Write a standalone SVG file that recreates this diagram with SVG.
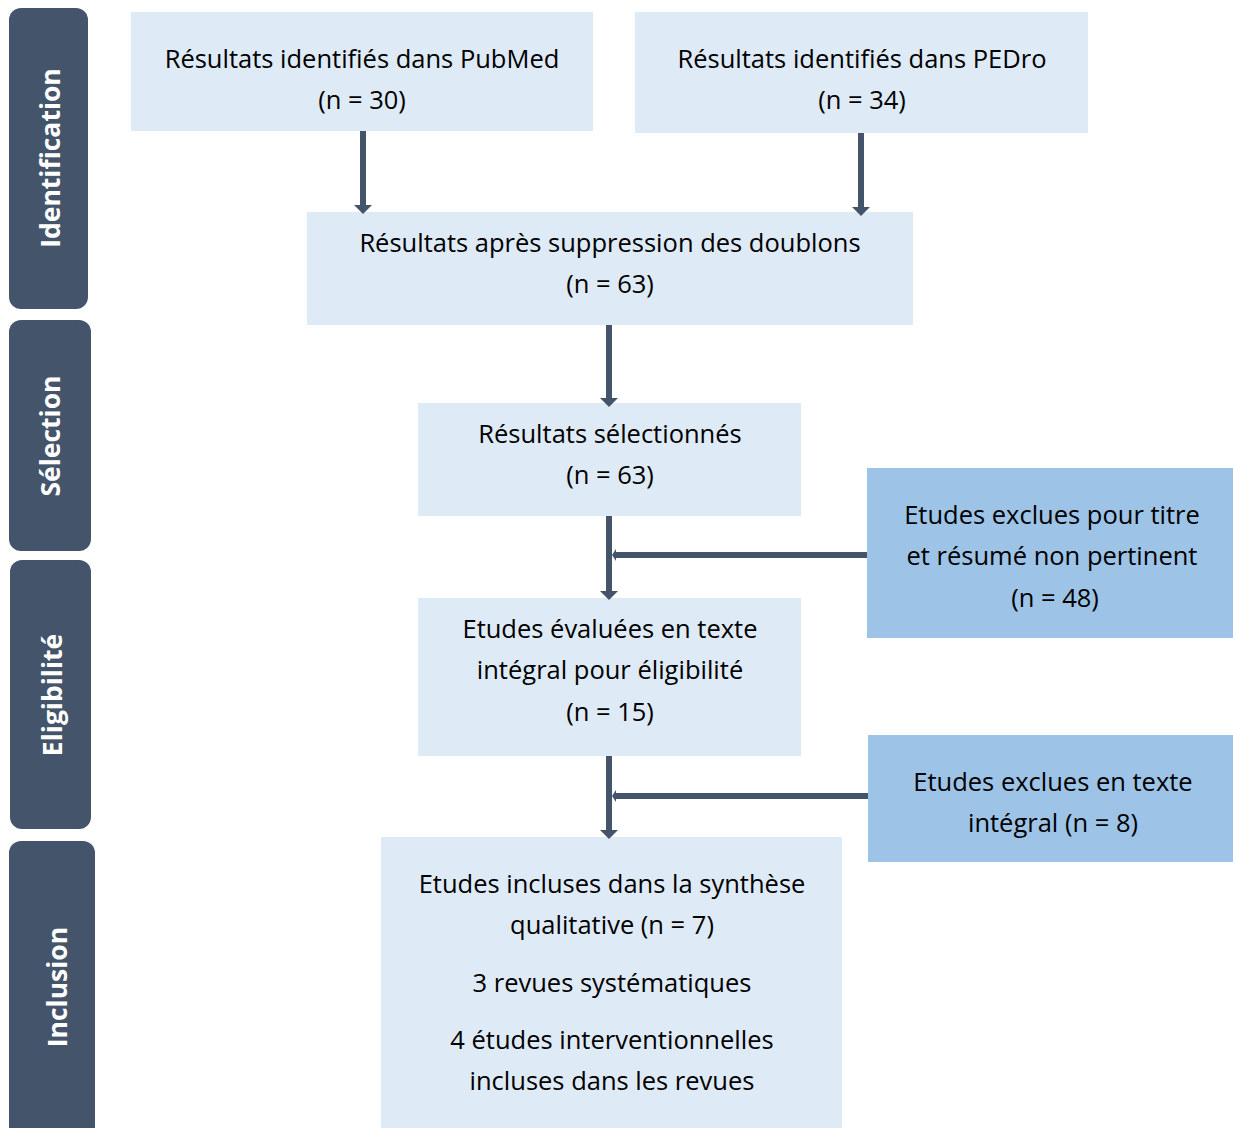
<svg xmlns="http://www.w3.org/2000/svg" width="1233" height="1128" viewBox="0 0 1233 1128">
<defs>
<style>
.side{fill:#44546A;}
.sl{fill:#fff;font-family:"Open Sans","DejaVu Sans",sans-serif;font-weight:bold;font-size:26.5px;text-anchor:middle;dominant-baseline:central;}
.box{fill:#DEEAF6;}
.ex{fill:#9DC3E6;}
.t{fill:#000;font-family:"Open Sans","DejaVu Sans",sans-serif;font-size:25.5px;text-anchor:middle;dominant-baseline:central;}
.c{stroke:#44546A;stroke-width:6;fill:none;}
.h{fill:#44546A;}
</style>
</defs>

<g id="side-identification"><rect class="side" x="9" y="8" width="79" height="301" rx="12"/><text class="sl" transform="translate(50,158) rotate(-90)">Identification</text></g>
<g id="side-selection"><rect class="side" x="9" y="320" width="82" height="231" rx="12"/><text class="sl" transform="translate(50,436) rotate(-90)">Sélection</text></g>
<g id="side-eligibilite"><rect class="side" x="10" y="560" width="81" height="269" rx="12"/><text class="sl" transform="translate(52,695) rotate(-90)">Eligibilité</text></g>
<g id="side-inclusion"><rect class="side" x="9" y="841" width="86" height="300" rx="12"/><text class="sl" transform="translate(57,987) rotate(-90)">Inclusion</text></g>

<g id="pubmed"><rect class="box" x="131" y="12" width="462" height="119"/><text class="t" x="362" y="58">Résultats identifiés dans PubMed</text><text class="t" x="362" y="99">(n = 30)</text></g>
<g id="pedro"><rect class="box" x="635" y="12" width="453" height="121"/><text class="t" x="862" y="58">Résultats identifiés dans PEDro</text><text class="t" x="862" y="99">(n = 34)</text></g>
<g id="doublons"><rect class="box" x="307" y="212" width="606" height="113"/><text class="t" x="610" y="242">Résultats après suppression des doublons</text><text class="t" x="610" y="283">(n = 63)</text></g>
<g id="selectionnes"><rect class="box" x="418" y="403" width="383" height="113"/><text class="t" x="610" y="433">Résultats sélectionnés</text><text class="t" x="610" y="474">(n = 63)</text></g>
<g id="evaluees"><rect class="box" x="418" y="598" width="383" height="158"/><text class="t" x="610" y="628">Etudes évaluées en texte</text><text class="t" x="610" y="669">intégral pour éligibilité</text><text class="t" x="610" y="711">(n = 15)</text></g>
<g id="incluses"><rect class="box" x="381" y="837" width="461" height="291"/><text class="t" x="612" y="883">Etudes incluses dans la synthèse</text><text class="t" x="612" y="924">qualitative (n = 7)</text><text class="t" x="612" y="982">3 revues systématiques</text><text class="t" x="612" y="1039">4 études interventionnelles</text><text class="t" x="612" y="1080">incluses dans les revues</text></g>
<g id="exclues-titre"><rect class="ex" x="867" y="468" width="366" height="170"/><text class="t" x="1052" y="514">Etudes exclues pour titre</text><text class="t" x="1052" y="555">et résumé non pertinent</text><text class="t" x="1055" y="597">(n = 48)</text></g>
<g id="exclues-texte"><rect class="ex" x="868" y="735" width="365" height="127"/><text class="t" x="1053" y="781">Etudes exclues en texte</text><text class="t" x="1053" y="822">intégral (n = 8)</text></g>

<g id="connectors">
<line class="c" x1="363" y1="131" x2="363" y2="206"/>
<polygon class="h" points="354,205 372,205 363,214"/>
<line class="c" x1="861" y1="133" x2="861" y2="208"/>
<polygon class="h" points="852,207 870,207 861,216"/>
<line class="c" x1="609" y1="325" x2="609" y2="399"/>
<polygon class="h" points="600,398 618,398 609,407"/>
<line class="c" x1="609" y1="516" x2="609" y2="592"/>
<polygon class="h" points="600,591 618,591 609,600"/>
<line class="c" x1="867" y1="555" x2="615" y2="555"/>
<polygon class="h" points="612,555 616,549 616,561"/>
<line class="c" x1="609" y1="756" x2="609" y2="831"/>
<polygon class="h" points="600,830 618,830 609,839"/>
<line class="c" x1="868" y1="796" x2="615" y2="796"/>
<polygon class="h" points="612,796 616,790 616,802"/>
</g>
</svg>
